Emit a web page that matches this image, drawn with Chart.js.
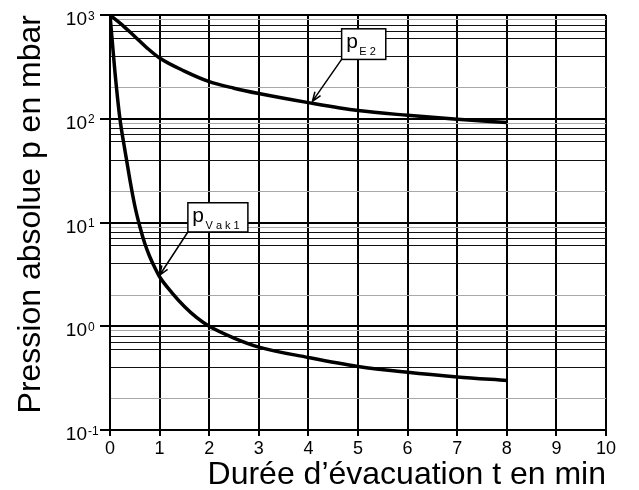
<!DOCTYPE html>
<html>
<head>
<meta charset="utf-8">
<script src="https://cdn.jsdelivr.net/npm/chart.js@4"></script>
<style>
  html, body { margin: 0; padding: 0; background: #fff; }
  #wrap { width: 639px; height: 490px; }
</style>
</head>
<body>
<div id="wrap"><canvas id="chart"></canvas></div>
<script>
// evacuation time in minutes, pressure in mbar
const timeVak = [0, 0.1, 0.2, 0.3, 0.4, 0.5, 0.6, 0.7, 0.8, 0.9, 1, 1.25, 1.5, 1.75, 2, 2.5, 3, 4, 5, 6, 7, 8]
const presVak = [1000, 282, 100, 50, 26, 14.5, 9.2, 6.3, 4.7, 3.7, 3.0, 2.1, 1.55, 1.21, 1.0, 0.77, 0.63, 0.50, 0.41, 0.36, 0.325, 0.30]
const timeE2 = [0, 0.25, 0.5, 0.75, 1, 1.5, 2, 2.5, 3, 4, 5, 6, 7, 8]
const presE2 = [1000, 800, 620, 480, 385, 288, 228, 197, 175, 143, 120, 108, 99, 92]

const xTicks = [0, 1, 2, 3, 4, 5, 6, 7, 8, 9, 10]
const decades = [0.1, 1, 10, 100, 1000]
const decadeExp = ['-1', '0', '1', '2', '3']
// minor grid lines that show in the original, the faint ones drawn grey
const minorBlack = [4, 6, 7, 8]
const minorGrey = [2, 9]

const xTitle = 'Durée d’évacuation t en min'
const yTitle = 'Pression absolue p en mbar'

const FONT = "'Liberation Sans', Arial, sans-serif";

const yGrid = [];
decades.forEach((d, i) => {
    yGrid.push(d);
    if (i === decades.length - 1) return;
    minorBlack.concat(minorGrey).forEach(m => yGrid.push(d * m));
});
yGrid.sort((a, b) => a - b);
const mantissa = v => Math.round(v / Math.pow(10, Math.floor(Math.log10(v) + 1e-9)));
const isMajor = v => mantissa(v) === 1;
const gridColor = v => isMajor(v) ? '#000' : (minorGrey.includes(mantissa(v)) ? '#a8a8a8' : '#111');

// curve labels with leader arrows (box corners and arrow tips in data units)
const notes = [
    { main: 'p', sub: 'E2', x0: 4.67, x1: 5.56, y0: 736, y1: 373, tipX: 4.08, tipY: 147 },
    { main: 'p', sub: 'Vak1', x0: 1.57, x1: 2.78, y0: 15.5, y1: 8.1, tipX: 1.0, tipY: 3.1 }
];

const decorations = {
    id: 'decorations',
    afterDatasetsDraw(chart) {
        const c = chart.ctx;
        const xs = chart.scales.x, ys = chart.scales.y;
        c.save();
        // y tick labels with exponents
        c.fillStyle = '#000';
        decades.forEach((d, i) => {
            const py = ys.getPixelForValue(d);
            c.font = '19px ' + FONT;
            c.textAlign = 'right';
            c.textBaseline = 'alphabetic';
            c.fillText('10', 87, py + 10);
            c.font = '12px ' + FONT;
            c.textAlign = 'left';
            c.fillText(decadeExp[i].replace('-', '‑'), 88, py + 4.5);
        });
        // labels
        notes.forEach(n => {
            const l = xs.getPixelForValue(n.x0), r = xs.getPixelForValue(n.x1);
            const t = ys.getPixelForValue(n.y0), b = ys.getPixelForValue(n.y1);
            const tx = xs.getPixelForValue(n.tipX), ty = ys.getPixelForValue(n.tipY);
            c.lineWidth = 1.5;
            c.strokeStyle = '#000';
            // arrow
            c.beginPath();
            c.moveTo(l, b);
            c.lineTo(tx, ty);
            const ang = Math.atan2(ty - b, tx - l);
            const hl = 10, ha = 0.35;
            c.moveTo(tx - hl * Math.cos(ang - ha), ty - hl * Math.sin(ang - ha));
            c.lineTo(tx, ty);
            c.lineTo(tx - hl * Math.cos(ang + ha), ty - hl * Math.sin(ang + ha));
            c.stroke();
            // box
            c.fillStyle = '#fff';
            c.fillRect(l, t, r - l, b - t);
            c.strokeRect(l, t, r - l, b - t);
            c.fillStyle = '#000';
            c.textAlign = 'left';
            c.textBaseline = 'alphabetic';
            c.font = '21px ' + FONT;
            c.fillText(n.main, l + 4.5, t + 19);
            let sx = l + 4.5 + c.measureText(n.main).width + 1.5;
            c.font = '11px ' + FONT;
            for (const ch of n.sub) {
                c.fillText(ch, sx, t + 26);
                sx += c.measureText(ch).width + 3;
            }
        });
        c.restore();
    }
};

const ctx = document.getElementById('chart');
new Chart(ctx, {
    type: 'line',
    data: {
        datasets: [{
            label: 'pVak1',
            data: timeVak.map((t, i) => ({ x: t, y: presVak[i] })),
            borderColor: '#000',
            borderWidth: 3.5,
            pointRadius: 0,
            cubicInterpolationMode: 'monotone',
            fill: false
        }, {
            label: 'pE2',
            data: timeE2.map((t, i) => ({ x: t, y: presE2[i] })),
            borderColor: '#000',
            borderWidth: 3.5,
            pointRadius: 0,
            cubicInterpolationMode: 'monotone',
            fill: false
        }]
    },
    options: {
        responsive: true,
        maintainAspectRatio: false,
        animation: false,
        layout: { padding: { top: 15, right: 33, left: 0, bottom: 0 } },
        plugins: {
            legend: { display: false },
            tooltip: { enabled: false }
        },
        scales: {
            x: {
                type: 'linear',
                min: 0,
                max: 10,
                afterBuildTicks: s => { s.ticks = xTicks.map(v => ({ value: v })) },
                afterFit: s => { s.height = 60 },
                grid: { color: '#000', lineWidth: 2, tickLength: 6, tickColor: '#000', tickWidth: 2 },
                border: { color: '#000', width: 2 },
                ticks: { color: '#000', font: { family: FONT, size: 18 }, padding: 2, maxRotation: 0, autoSkip: false },
                title: {
                    display: true,
                    text: xTitle,
                    align: 'end',
                    color: '#000',
                    font: { family: FONT, size: 32, lineHeight: 0.8 },
                    padding: { top: 0, bottom: 2 }
                }
            },
            y: {
                type: 'logarithmic',
                min: 0.1,
                max: 1000,
                afterBuildTicks: s => { s.ticks = yGrid.map(v => ({ value: v })) },
                afterFit: s => { s.width = 110 },
                grid: {
                    color: c => gridColor(c.tick.value),
                    lineWidth: c => isMajor(c.tick.value) ? 2 : 1,
                    tickLength: 10,
                    tickColor: c => isMajor(c.tick.value) ? '#000' : 'rgba(0,0,0,0)',
                    tickWidth: 2
                },
                border: { color: '#000', width: 2 },
                ticks: { callback: () => '', font: { size: 18 }, autoSkip: false },
                title: {
                    display: true,
                    text: yTitle,
                    align: 'end',
                    color: '#000',
                    font: { family: FONT, size: 32, lineHeight: 0.8 },
                    padding: { top: 18, bottom: 0 }
                }
            }
        }
    },
    plugins: [decorations]
});
</script>
</body>
</html>
